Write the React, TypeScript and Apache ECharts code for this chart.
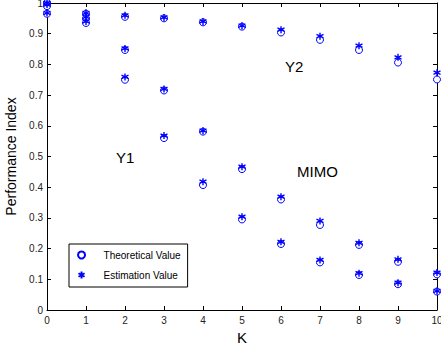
import React, { useEffect, useRef } from "react";
import * as echarts from "echarts";

const kValues = [0, 1, 2, 3, 4, 5, 6, 7, 8, 9, 10];
const yTickLabels = ["0", "0.1", "0.2", "0.3", "0.4", "0.5", "0.6", "0.7", "0.8", "0.9", "1"];

// Theoretical values
const y2Theory = [0.965, 0.965, 0.955, 0.95, 0.937, 0.923, 0.904, 0.88, 0.847, 0.806, 0.751];
const y1Theory = [1.0, 0.95, 0.847, 0.715, 0.581, 0.459, 0.36, 0.277, 0.212, 0.157, 0.116];
const mimoTheory = [0.99, 0.935, 0.75, 0.56, 0.407, 0.295, 0.215, 0.155, 0.114, 0.084, 0.06];

// Estimation values
const y2Est = [0.968, 0.968, 0.96, 0.953, 0.94, 0.926, 0.913, 0.892, 0.861, 0.823, 0.773];
const y1Est = [1.0, 0.955, 0.852, 0.72, 0.584, 0.467, 0.369, 0.29, 0.219, 0.165, 0.122];
const mimoEst = [0.995, 0.94, 0.759, 0.568, 0.418, 0.304, 0.222, 0.163, 0.12, 0.089, 0.062];

const BLUE = "#0000ff";
const FONT = "Liberation Sans, Arial, sans-serif";
const asterisk = "path://M5,0L5,10M0.67,2.5L9.33,7.5M0.67,7.5L9.33,2.5";

const pairs = (ys: number[]) => kValues.map((k, i) => [k, ys[i]]);

export default function App() {
  const ref = useRef<HTMLDivElement>(null);
  useEffect(() => {
    const chart = echarts.init(ref.current!, null, { renderer: "svg" });
    const theoryStyle = {
      type: "scatter" as const,
      name: "Theoretical Value",
      symbol: "circle",
      symbolSize: 7,
      itemStyle: { color: "#ffffff", borderColor: BLUE, borderWidth: 1, opacity: 1 },
      z: 2,
    };
    const estStyle = {
      type: "scatter" as const,
      name: "Estimation Value",
      symbol: asterisk,
      symbolSize: 7,
      itemStyle: { color: "none", borderColor: BLUE, borderWidth: 1.4, opacity: 1 },
      z: 3,
    };
    const axisCommon = {
      axisLine: { show: true, onZero: false, lineStyle: { color: "#000", width: 1 } },
      axisTick: { show: true, inside: true, length: 4, lineStyle: { color: "#000" } },
      splitLine: { show: false },
    };
    chart.setOption({
      animation: false,
      grid: { left: 47, right: 4, top: 3, bottom: 40, containLabel: false, outerBoundsMode: "none" },
      xAxis: [
        {
          type: "value",
          min: 0,
          max: 10,
          interval: 1,
          name: "K",
          nameLocation: "middle",
          nameGap: 17,
          nameTextStyle: { fontFamily: FONT, fontSize: 15, color: "#000" },
          axisLabel: { fontFamily: FONT, fontSize: 10, color: "#222", margin: 5 },
          ...axisCommon,
        },
        {
          type: "value",
          position: "top",
          min: 0,
          max: 10,
          interval: 1,
          axisLabel: { show: false },
          ...axisCommon,
        },
      ],
      yAxis: [
        {
          type: "value",
          min: 0,
          max: 1,
          interval: 0.1,
          name: "Performance Index",
          nameLocation: "middle",
          nameGap: 16,
          nameTextStyle: { fontFamily: FONT, fontSize: 14, color: "#000" },
          axisLabel: {
            fontFamily: FONT,
            fontSize: 10,
            color: "#222",
            margin: 4,
            formatter: (v: number) => yTickLabels[Math.round(v * 10)] ?? "",
          },
          ...axisCommon,
        },
        {
          type: "value",
          position: "right",
          min: 0,
          max: 1,
          interval: 0.1,
          axisLabel: { show: false },
          ...axisCommon,
        },
      ],
      legend: {
        show: true,
        orient: "vertical",
        left: 69,
        top: 244,
        data: ["Theoretical Value", "Estimation Value"],
        itemWidth: 34,
        itemHeight: 7,
        itemGap: 9,
        padding: [6, 7, 6, 7],
        borderColor: "#000",
        borderWidth: 1,
        backgroundColor: "#fff",
        textStyle: { fontFamily: FONT, fontSize: 10, color: "#000" },
        selectedMode: false,
      },
      graphic: [
        { type: "text", left: 285, top: 59, style: { text: "Y2", font: `15px ${FONT}`, fill: "#000" } },
        { type: "text", left: 116, top: 150, style: { text: "Y1", font: `15px ${FONT}`, fill: "#000" } },
        { type: "text", left: 297, top: 164, style: { text: "MIMO", font: `15px ${FONT}`, fill: "#000" } },
      ],
      series: [
        { ...theoryStyle, data: pairs(y2Theory) },
        { ...theoryStyle, data: pairs(y1Theory) },
        { ...theoryStyle, data: pairs(mimoTheory) },
        { ...estStyle, data: pairs(y2Est) },
        { ...estStyle, data: pairs(y1Est) },
        { ...estStyle, data: pairs(mimoEst) },
      ],
    });
    return () => chart.dispose();
  }, []);
  return (
    <div style={{ position: "absolute", left: 0, top: 0, width: 441, height: 350, background: "#fff" }}>
      <div ref={ref} style={{ width: 441, height: 350 }} />
    </div>
  );
}
